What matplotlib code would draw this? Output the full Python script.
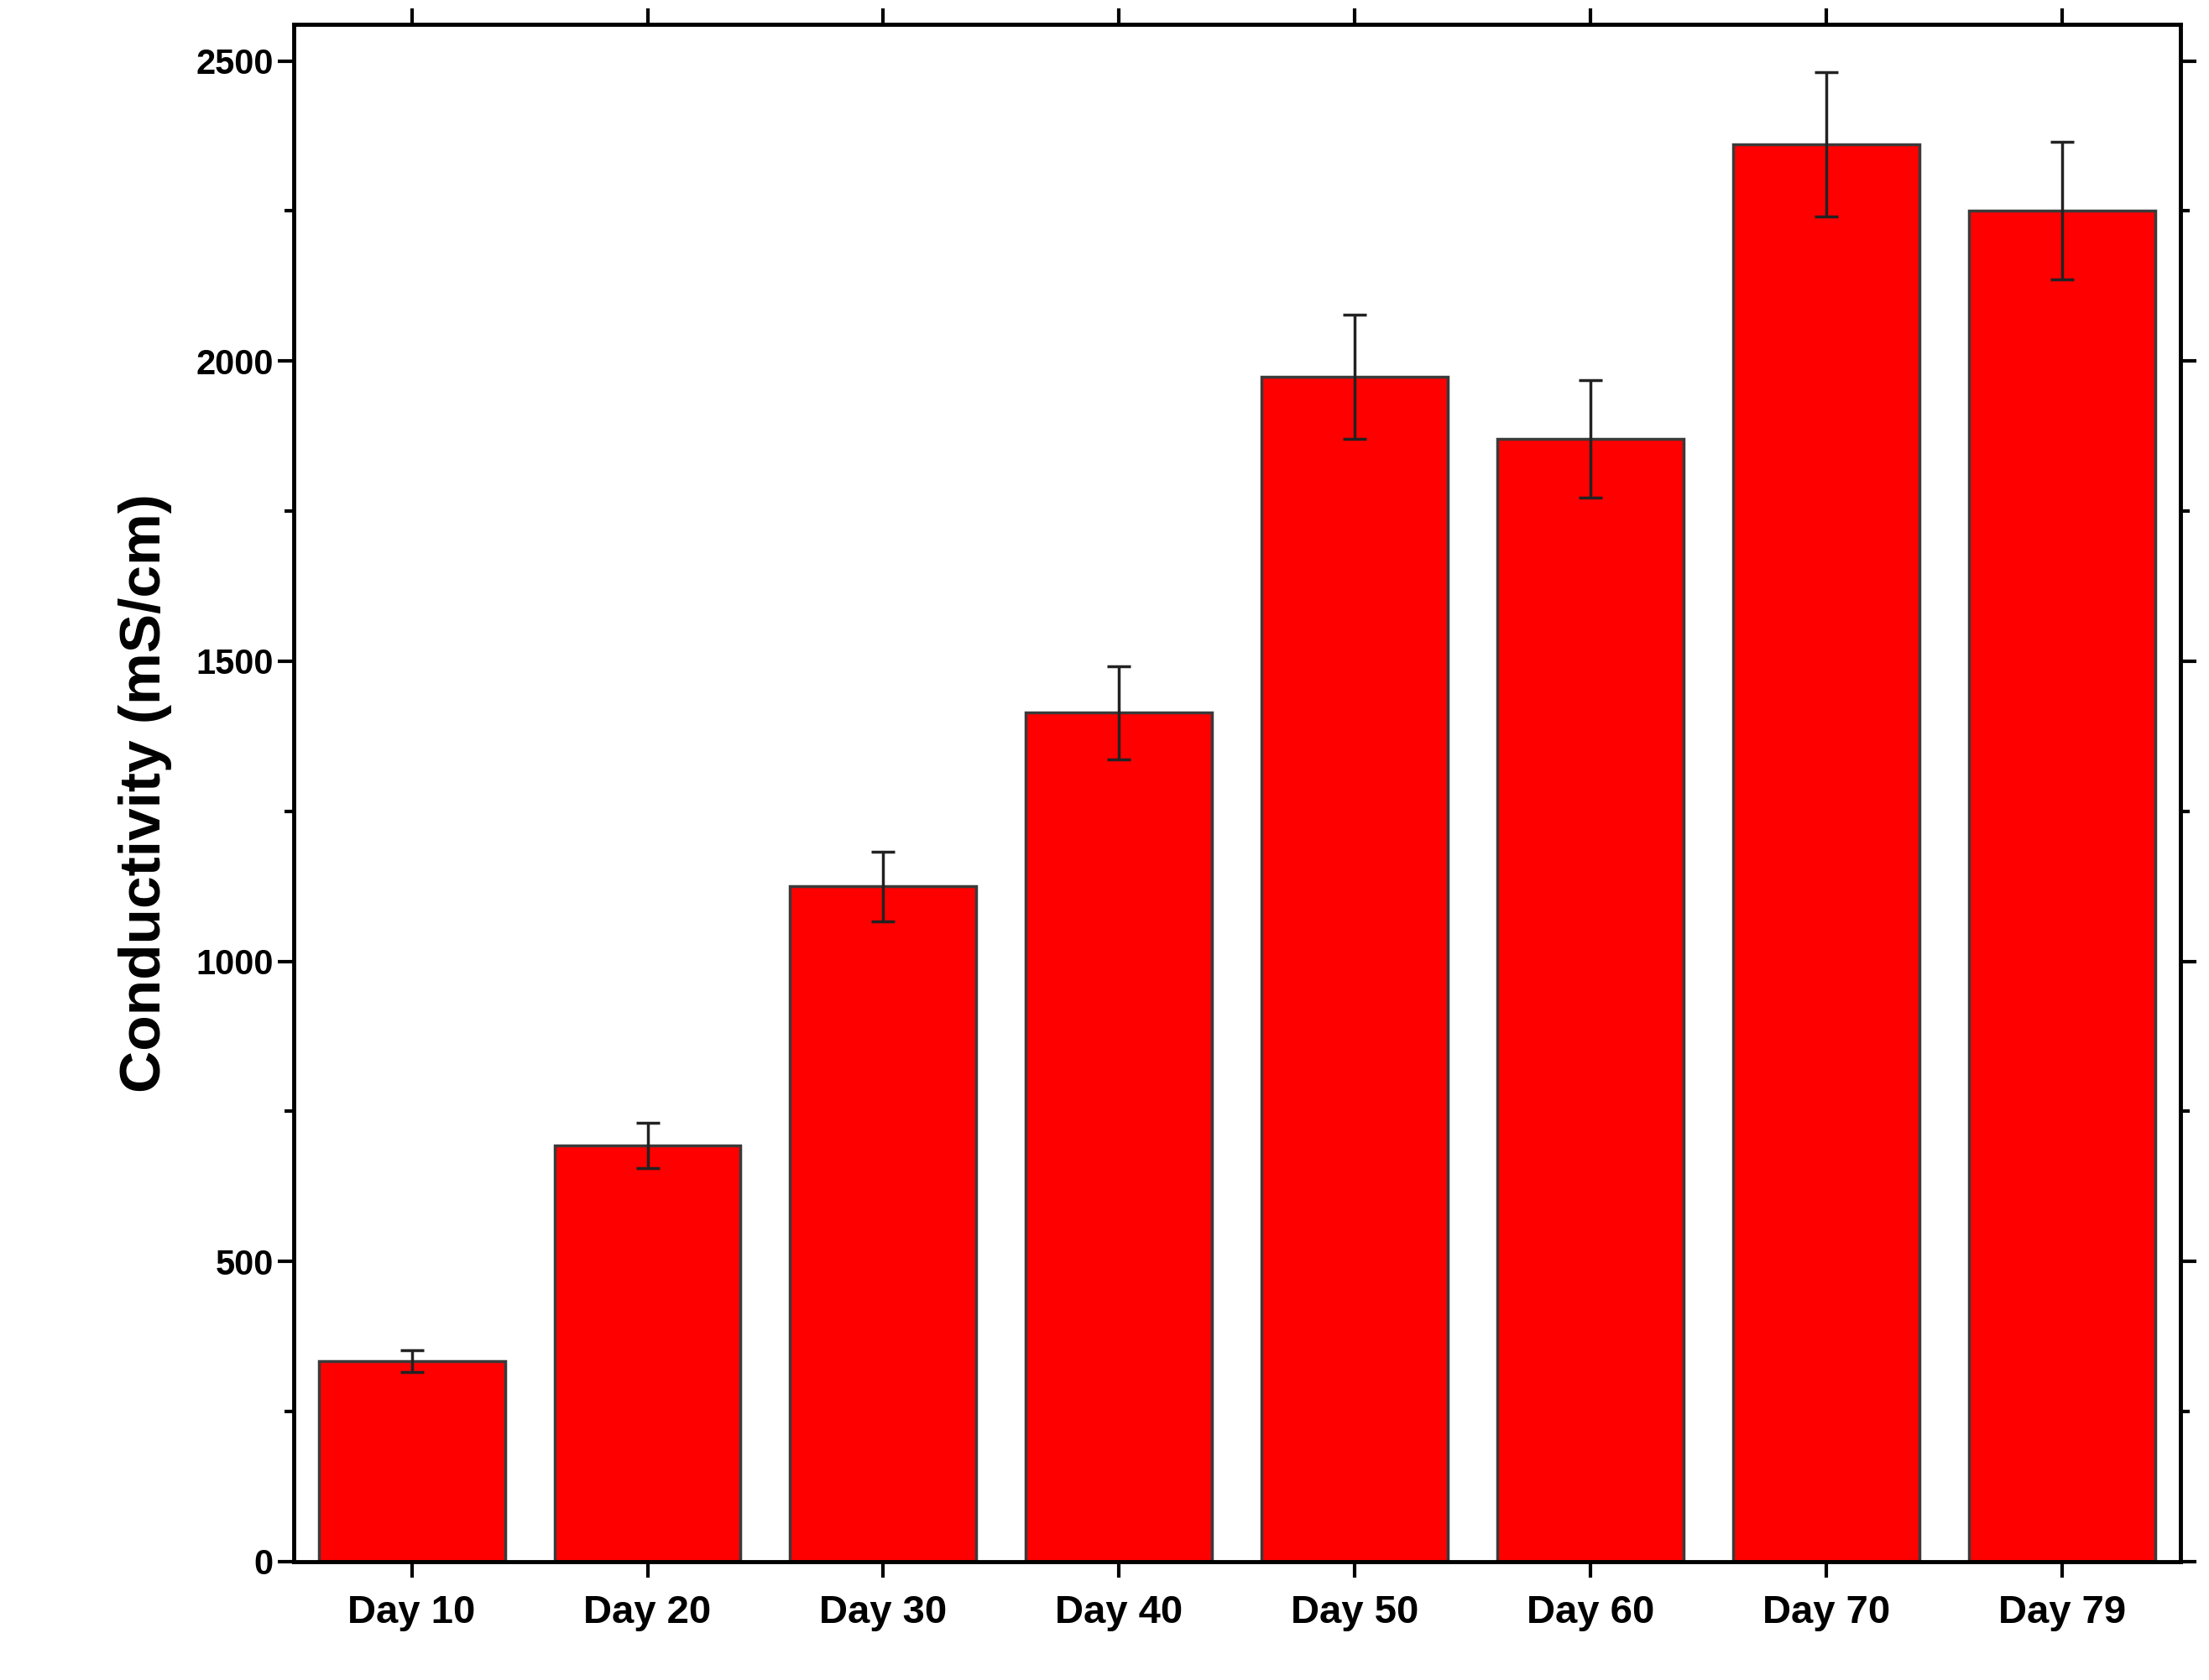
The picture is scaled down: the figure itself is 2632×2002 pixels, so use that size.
import matplotlib
matplotlib.use("Agg")
import matplotlib.pyplot as plt
import numpy as np

days = ["Day 10", "Day 20", "Day 30", "Day 40", "Day 50", "Day 60", "Day 70", "Day 79"]
conductivity = [334, 693, 1125, 1414, 1974, 1870, 2361, 2251]
errors = [18, 38, 58, 78, 103, 98, 120, 115]

plt.rcParams['font.family'] = ['Liberation Sans', 'DejaVu Sans']
plt.rcParams['font.weight'] = 'bold'

fig = plt.figure(figsize=(26.32, 20.02), dpi=100)
ax = fig.add_axes([0.133, 0.0705, 0.854, 0.915])

x = np.arange(len(days))
ax.bar(x, conductivity, width=0.79, color='#ff0000', edgecolor='#3a3a3a', linewidth=2.5)
ax.errorbar(x, conductivity, yerr=errors, fmt='none', ecolor='#222222',
            elinewidth=2.5, capsize=10, capthick=2.5)

ax.set_xlim(-0.5, 7.5)
ax.set_ylim(0, 2561)
ax.set_xticks(x)
ax.set_xticklabels(days, fontsize=34, fontweight='bold')
ax.set_yticks([0, 500, 1000, 1500, 2000, 2500])
ax.set_yticks(np.arange(250, 2560, 500), minor=True)
ax.tick_params(axis='y', labelsize=30, width=3, length=14, direction='out')
ax.tick_params(axis='y', which='minor', width=3, length=8, direction='out')
ax.tick_params(axis='x', width=3, length=14, direction='out', pad=14)
for lab in ax.get_yticklabels():
    lab.set_fontweight('bold')
ax.tick_params(top=True, right=True, which='both')
ax.set_ylabel("Conductivity (mS/cm)", fontsize=50, fontweight='bold', labelpad=20)
for s in ax.spines.values():
    s.set_linewidth(3.5)

fig.savefig("out.png", dpi=100)
